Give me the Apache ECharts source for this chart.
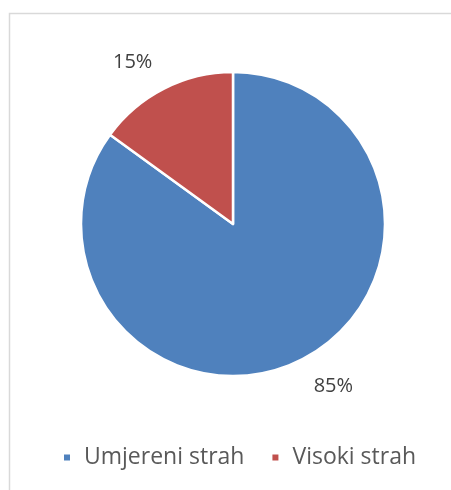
<!DOCTYPE html>
<html>
<head>
<meta charset="utf-8">
<script src="https://cdn.jsdelivr.net/npm/echarts@6/dist/echarts.min.js"></script>
<style>
  html, body { margin: 0; padding: 0; background: #fff; }
  #box { width: 451px; height: 490px; }
</style>
</head>
<body>
<div id="box"></div>
<script>
// categories and values
const aNames = ['Umjereni strah', 'Visoki strah'];
const aValues = [85, 15];
const aColors = ['#4f81bd', '#c0504d'];

const myChart = echarts.init(document.getElementById('box'));

const data = aNames.map((name, i) => {
    return { name, value: aValues[i], itemStyle: { color: aColors[i] } };
});

const option = {
    animation: false,
    graphic: [{
        type: 'rect',
        shape: { x: 9.5, y: 13.5, width: 460, height: 500 },
        style: { fill: 'none', stroke: '#d9d9d9', lineWidth: 1.5 },
        silent: true,
    }],
    legend: {
        bottom: 16,
        left: 57,
        icon: 'rect',
        itemWidth: 8,
        itemHeight: 8,
        itemGap: 26,
        textStyle: { fontFamily: 'Open Sans', fontSize: 23, color: '#595959', padding: [0, 0, 0, 8] },
        data: aNames,
    },
    series: [{
        type: 'pie',
        center: [233, 224],
        radius: 152,
        startAngle: 90,
        clockwise: true,
        itemStyle: { borderColor: '#fff', borderWidth: 2.5 },
        label: {
            show: true,
            position: 'outside',
            formatter: '{d}%',
            fontFamily: 'Open Sans',
            fontSize: 20,
            color: '#404040',
            distanceToLabelLine: -2,
        },
        labelLine: { show: false, length: 30, length2: 0 },
        emphasis: { disabled: true },
        data,
    }],
};
myChart.setOption(option);
</script>
</body>
</html>
